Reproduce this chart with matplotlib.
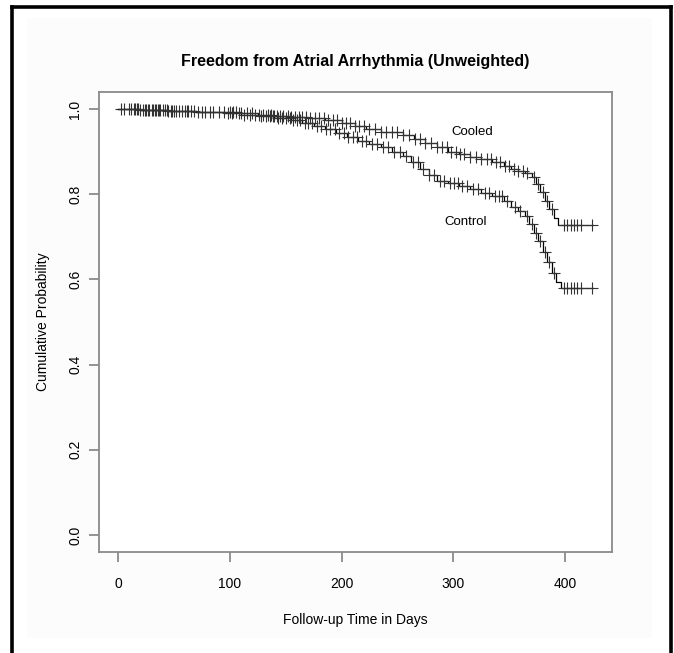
import numpy as np
import matplotlib
matplotlib.use("Agg")
import matplotlib.pyplot as plt
from matplotlib.lines import Line2D
from matplotlib.patches import Rectangle

plt.rcParams['font.family'] = ['Liberation Sans', 'DejaVu Sans']

# ---- data ----
cooled_times = [0, 20, 45, 70, 95, 110, 125, 140, 155, 170, 185, 200, 212, 222, 235,
                255, 265, 275, 285, 295, 305, 315, 325, 335, 345, 352, 358, 364, 370,
                374, 378, 382, 386, 390, 394]
cooled_surv = [1.0, 0.998, 0.996, 0.994, 0.992, 0.99, 0.987, 0.984, 0.981, 0.978, 0.974,
               0.968, 0.961, 0.953, 0.945, 0.938, 0.93, 0.92, 0.91, 0.9, 0.895, 0.888,
               0.882, 0.875, 0.866, 0.86, 0.855, 0.85, 0.84, 0.825, 0.805, 0.785, 0.765,
               0.745, 0.728]
cooled_censor = [3, 12, 15, 18, 22, 25, 28, 30, 33, 36, 38, 42, 45, 48, 50, 55, 60, 63, 65,
                 72, 78, 85, 95, 100, 103, 106, 110, 115, 120, 126, 130, 134, 137, 140,
                 142, 145, 148, 152, 155, 158, 162, 165, 168, 172, 176, 180, 184, 188, 192,
                 196, 200, 204, 208, 212, 216, 220, 225, 230, 235, 240, 245, 250, 255, 260,
                 266, 270, 275, 280, 285, 290, 294, 298, 302, 306, 310, 315, 320, 325, 330,
                 334, 338, 342, 346, 350, 354, 358, 362, 366, 372, 376, 380, 384, 388,
                 399, 402, 405, 408, 411, 414, 424]

control_times = [0, 20, 45, 70, 95, 110, 125, 140, 155, 165, 175, 185, 195, 205, 215, 225,
                 235, 245, 255, 262, 270, 278, 285, 295, 305, 315, 325, 335, 345, 352, 358,
                 364, 368, 372, 376, 380, 384, 388, 392, 396]
control_surv = [1.0, 0.998, 0.996, 0.993, 0.99, 0.987, 0.984, 0.98, 0.975, 0.968, 0.96,
                0.952, 0.944, 0.935, 0.926, 0.918, 0.91, 0.9, 0.89, 0.875, 0.86, 0.845,
                0.832, 0.826, 0.82, 0.812, 0.804, 0.795, 0.785, 0.77, 0.76, 0.75, 0.73,
                0.71, 0.69, 0.665, 0.64, 0.615, 0.595, 0.58]
control_censor = [5, 10, 14, 17, 20, 24, 27, 31, 34, 37, 40, 44, 47, 52, 57, 62, 68, 75, 82,
                  90, 98, 102, 108, 113, 118, 123, 128, 132, 136, 139, 143, 147, 150, 154,
                  157, 160, 163, 167, 170, 174, 178, 182, 186, 190, 194, 198, 202, 206, 210,
                  214, 218, 222, 227, 232, 237, 242, 247, 252, 258, 264, 268, 273, 278, 283,
                  288, 292, 297, 301, 304, 308, 312, 318, 322, 328, 332, 337, 341, 344, 348,
                  355, 360, 366, 370, 374, 378, 382, 386, 390, 399, 402, 405, 408, 411, 414,
                  424]

x_ticks = [0, 100, 200, 300, 400]
y_ticks = [0.0, 0.2, 0.4, 0.6, 0.8, 1.0]
max_time = 425

title = "Freedom from Atrial Arrhythmia (Unweighted)"
xlabel = "Follow-up Time in Days"
ylabel = "Cumulative Probability"


def surv_at(t, times, surv):
    idx = np.searchsorted(np.asarray(times), t, side='right') - 1
    return np.asarray(surv)[idx]


fig = plt.figure(figsize=(6.74, 6.53), dpi=100)
fig.patch.set_facecolor('white')

# faint inner background
fig.add_artist(Rectangle((27 / 674, 1 - 638 / 653), (652 - 27) / 674, (638 - 18) / 653,
                         transform=fig.transFigure, facecolor='#fcfcfc', edgecolor='none',
                         zorder=-10))
# outer black frame (open at bottom)
fx0, fx1, fy1 = 11.5 / 674, 670.5 / 674, 1 - 6.5 / 653
for xs, ys in [([fx0, fx0], [0, fy1]), ([fx0, fx1], [fy1, fy1]), ([fx1, fx1], [fy1, 0])]:
    fig.add_artist(Line2D(xs, ys, transform=fig.transFigure, color='black', linewidth=2.6))

ax = fig.add_axes([99 / 674, 1 - 552 / 653, (612 - 99) / 674, (552 - 92) / 653])
ax.set_facecolor('white')

for times, surv, cens in [(cooled_times, cooled_surv, cooled_censor),
                          (control_times, control_surv, control_censor)]:
    t_full = list(times) + [max_time]
    s_full = list(surv) + [surv[-1]]
    ax.step(t_full, s_full, where='post', color='black', linewidth=0.9)
    cy = surv_at(np.asarray(cens), times, surv)
    ax.plot(cens, cy, linestyle='none', marker='+', markersize=9, markeredgewidth=0.8,
            color='#333333')

ax.text(317, 0.946, "Cooled", fontsize=9.5, ha='center', va='center')
ax.text(311, 0.734, "Control", fontsize=9.5, ha='center', va='center')

ax.set_xlim(-0.04 * max_time, 1.04 * max_time)
ax.set_ylim(-0.04, 1.04)
ax.set_xticks(x_ticks)
ax.set_xticklabels([str(v) for v in x_ticks])
ax.set_yticks(y_ticks)
ax.set_yticklabels([f"{v:.1f}" for v in y_ticks], rotation=90, va='center')

for sp in ax.spines.values():
    sp.set_color('#8a8a8a')
    sp.set_linewidth(1.3)
ax.tick_params(direction='out', length=7, width=1.3, color='#8a8a8a', labelsize=10)
ax.tick_params(axis='x', pad=11)
ax.tick_params(axis='y', pad=5)

ax.set_title(title, fontsize=11.5, fontweight='bold', pad=19)
ax.set_xlabel(xlabel, fontsize=10, labelpad=16)
ax.set_ylabel(ylabel, fontsize=10, labelpad=13)

fig.savefig("out.png", dpi=100)
